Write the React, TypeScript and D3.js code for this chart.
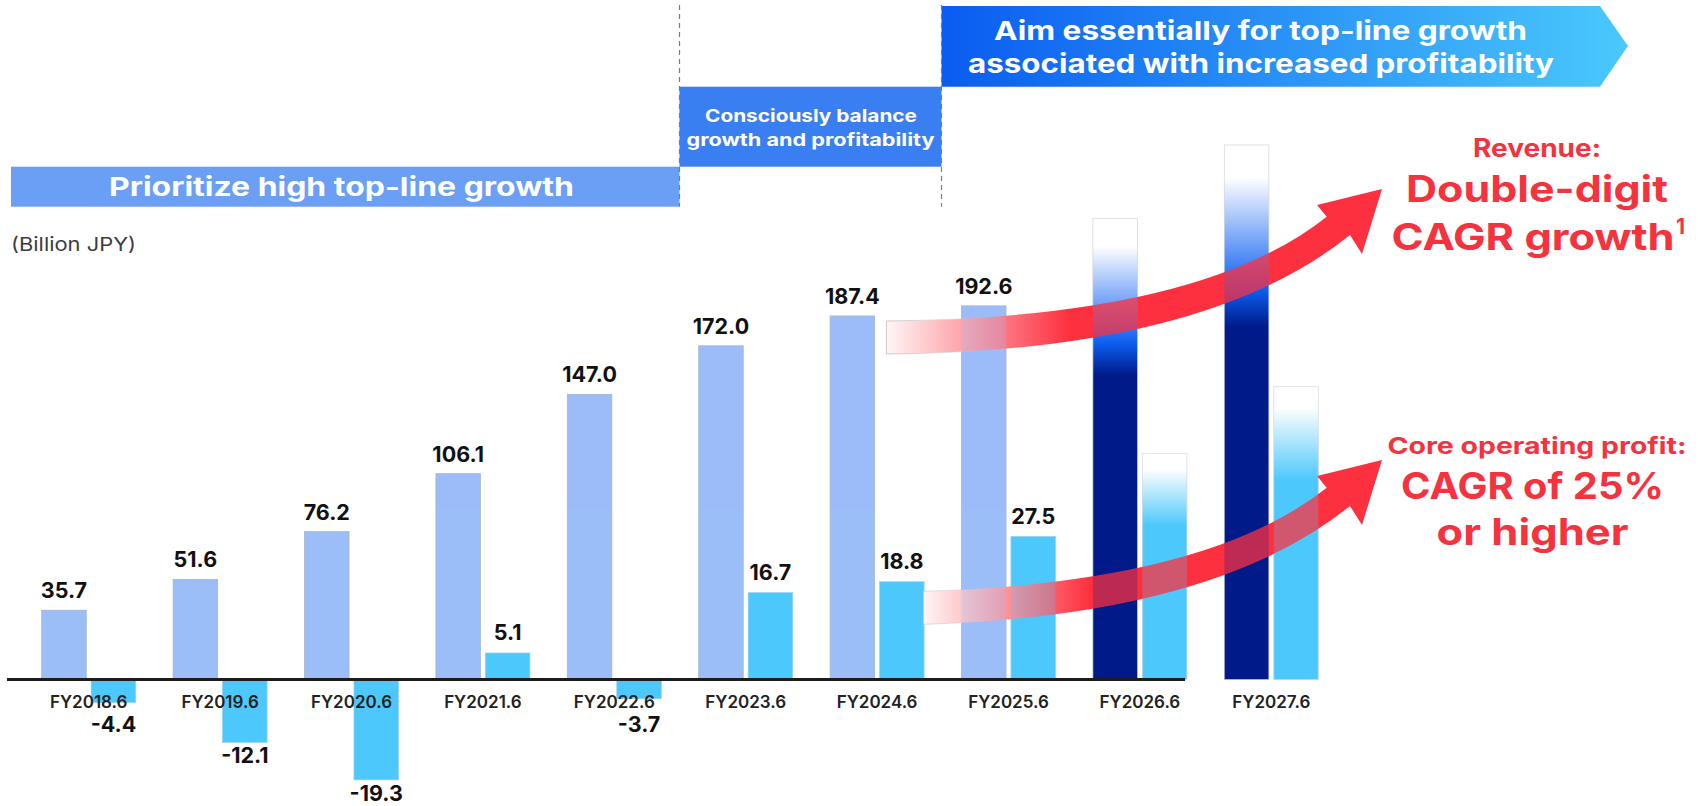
import * as d3 from 'd3';

const categories = ['FY2018.6', 'FY2019.6', 'FY2020.6', 'FY2021.6', 'FY2022.6', 'FY2023.6', 'FY2024.6', 'FY2025.6', 'FY2026.6', 'FY2027.6'];
// revenue and core operating profit, billion JPY (last two are illustrative targets, no labels)
const revenue = [35.7, 51.6, 76.2, 106.1, 147.0, 172.0, 187.4, 192.6, 237.7, 275.5];
const coreProfit = [-4.4, -12.1, -19.3, 5.1, -3.7, 16.7, 18.8, 27.5, 43.5, 56.3];
const targetYears = ['FY2026.6', 'FY2027.6'];

const phaseLeft = 'Prioritize high top-line growth';
const phaseMid = ['Consciously balance', 'growth and profitability'];
const phaseRight = ['Aim essentially for top-line growth', 'associated with increased profitability'];
const revenueNote = ['Revenue:', 'Double-digit', 'CAGR growth'];
const profitNote = ['Core operating profit:', 'CAGR of 25%', 'or higher'];

const W = 1698;
const H = 806;
const baseY = 679.5;
const FONT = 'Inter, "Open Sans", sans-serif';
const RED = '#f4333f';

const REV_COLOR = '#9bbdf8';
const OP_COLOR = '#4cc8fc';

type Pt = [number, number];

// quadratic bezier helpers so the lower arrow is the same curve, just started later
const quadAt = (p0: Pt, p1: Pt, p2: Pt, t: number): Pt => [
  (1 - t) * (1 - t) * p0[0] + 2 * t * (1 - t) * p1[0] + t * t * p2[0],
  (1 - t) * (1 - t) * p0[1] + 2 * t * (1 - t) * p1[1] + t * t * p2[1],
];
const subQuad = (p0: Pt, p1: Pt, p2: Pt, xStart: number) => {
  let lo = 0;
  let hi = 1;
  for (let i = 0; i < 40; i++) {
    const m = (lo + hi) / 2;
    if (quadAt(p0, p1, p2, m)[0] < xStart) lo = m;
    else hi = m;
  }
  const t = lo;
  const s = quadAt(p0, p1, p2, t);
  const c: Pt = [(1 - t) * p1[0] + t * p2[0], (1 - t) * p1[1] + t * p2[1]];
  return { s, c };
};

function arrowPath(dy: number, xStart: number) {
  const sh = (p: Pt): Pt => [p[0], p[1] + dy];
  const topS = sh([886.5, 321]);
  const topC = sh([1200, 318]);
  const notchT = sh([1326.7, 216.7]);
  const botS = sh([886, 354]);
  const botC = sh([1205, 352]);
  const notchB = sh([1350, 235]);
  const backT = sh([1317, 205]);
  const tip = sh([1382, 189]);
  const backB = sh([1362, 254]);
  const top = subQuad(topS, topC, notchT, xStart);
  const bot = subQuad(botS, botC, notchB, xStart);
  const p = d3.path();
  p.moveTo(top.s[0], top.s[1]);
  p.quadraticCurveTo(top.c[0], top.c[1], notchT[0], notchT[1]);
  p.lineTo(backT[0], backT[1]);
  p.lineTo(tip[0], tip[1]);
  p.lineTo(backB[0], backB[1]);
  p.lineTo(notchB[0], notchB[1]);
  // bottom edge drawn backwards: reverse quad keeps the same control point
  p.quadraticCurveTo(bot.c[0], bot.c[1], bot.s[0], bot.s[1]);
  p.closePath();
  return p.toString();
}

export default function App() {
  const x = d3.scaleBand<string>().domain(categories).range([23, 1337]).paddingInner(0.285).paddingOuter(0.1425);
  const xs = d3.scaleBand<string>().domain(['rev', 'op']).range([0, x.bandwidth()]).paddingInner(0.1);
  const yRev = d3.scaleLinear().domain([0, 100]).range([baseY, baseY - 194]);
  const yOp = d3.scaleLinear().domain([0, 10]).range([baseY, baseY - 52]);

  const bars = (pass: number) =>
    categories.map((c, i) => {
      const target = targetYears.includes(c);
      const xr = x(c)! + xs('rev')!;
      const xo = x(c)! + xs('op')!;
      const r = revenue[i];
      const o = coreProfit[i];
      const op = pass === 1 ? 0.25 : 1;
      return (
        <g key={c} opacity={op}>
          <rect
            x={xr}
            y={yRev(r)}
            width={xs.bandwidth()}
            height={baseY - yRev(r)}
            fill={target ? 'url(#revTarget)' : REV_COLOR}
            stroke={pass === 0 ? (target ? '#d0d4dc' : '#a9b6cc') : 'none'}
            strokeWidth={0.8}
          />
          <rect
            x={xo}
            y={Math.min(yOp(o), baseY)}
            width={xs.bandwidth()}
            height={Math.abs(yOp(o) - baseY)}
            fill={target ? 'url(#opTarget)' : OP_COLOR}
            stroke={pass === 0 ? (target ? '#d4d8de' : '#9fd6ee') : 'none'}
            strokeWidth={0.8}
          />
        </g>
      );
    });

  const fit = { lengthAdjust: 'spacingAndGlyphs' as const };

  return (
    <svg width={W} height={H} style={{ position: 'absolute', left: 0, top: 0, background: '#fff' }} fontFamily={FONT}>
      <defs>
        <linearGradient id="revTarget" x1="0" y1="0" x2="0" y2="1">
          <stop offset="0" stopColor="#ffffff" />
          <stop offset="0.06" stopColor="#ffffff" />
          <stop offset="0.27" stopColor="#0d5ff2" />
          <stop offset="0.34" stopColor="#001a8a" />
          <stop offset="1" stopColor="#001a8a" />
        </linearGradient>
        <linearGradient id="opTarget" x1="0" y1="0" x2="0" y2="1">
          <stop offset="0" stopColor="#ffffff" />
          <stop offset="0.07" stopColor="#ffffff" />
          <stop offset="0.32" stopColor={OP_COLOR} />
          <stop offset="1" stopColor={OP_COLOR} />
        </linearGradient>
        <linearGradient id="banner" x1="0" y1="0" x2="1" y2="0">
          <stop offset="0" stopColor="#0a5cf0" />
          <stop offset="1" stopColor="#4ac9fc" />
        </linearGradient>
        <linearGradient id="arrowRev" gradientUnits="userSpaceOnUse" x1="886" y1="0" x2="1070" y2="0">
          <stop offset="0" stopColor="#fff6f6" />
          <stop offset="1" stopColor="#fd303f" />
        </linearGradient>
        <linearGradient id="arrowOp" gradientUnits="userSpaceOnUse" x1="923" y1="0" x2="1090" y2="0">
          <stop offset="0" stopColor="#fff6f6" />
          <stop offset="1" stopColor="#fd303f" />
        </linearGradient>
        <linearGradient id="arrowEdge" gradientUnits="userSpaceOnUse" x1="880" y1="0" x2="1000" y2="0">
          <stop offset="0" stopColor="#c8c8c8" stopOpacity="1" />
          <stop offset="1" stopColor="#c8c8c8" stopOpacity="0" />
        </linearGradient>
      </defs>

      {/* phase headers */}
      <rect x={11} y={166.7} width={668.5} height={40} fill="#6a9ff5" />
      <text x={109} y={196} fill="#fff" fontSize={26} fontWeight={700} textLength={465} {...fit}>
        {phaseLeft}
      </text>
      <rect x={679.5} y={86.7} width={262} height={80} fill="#3a7ff2" />
      {phaseMid.map((t, i) => (
        <text
          key={t}
          x={i === 0 ? 705 : 686.5}
          y={122 + i * 24}
          fill="#fff"
          fontSize={17.5}
          fontWeight={700}
          textLength={i === 0 ? 212 : 248}
          {...fit}
        >
          {t}
        </text>
      ))}
      <path d="M941.5,6 L1600,6 L1628,46 L1600,86.7 L941.5,86.7 Z" fill="url(#banner)" />
      {phaseRight.map((t, i) => (
        <text
          key={t}
          x={i === 0 ? 994 : 968}
          y={39.5 + i * 33.5}
          fill="#fff"
          fontSize={26}
          fontWeight={700}
          textLength={i === 0 ? 533 : 586}
          {...fit}
        >
          {t}
        </text>
      ))}
      {[679.5, 941.5].map((d) => (
        <line key={d} x1={d} x2={d} y1={5} y2={206.7} stroke="#6b7ca8" strokeWidth={1.2} strokeDasharray="5,4" />
      ))}

      <text x={11} y={251} fontSize={19} fill="#3c3c3c" textLength={125} {...fit}>
        (Billion JPY)
      </text>

      {bars(0)}

      {/* growth arrows */}
      <path d={arrowPath(0, 886.5)} fill="url(#arrowRev)" stroke="url(#arrowEdge)" strokeWidth={1} />
      <path d={arrowPath(271, 923.3)} fill="url(#arrowOp)" stroke="url(#arrowEdge)" strokeWidth={1} />

      {/* bars again, faintly, so the arrows look translucent */}
      {bars(1)}

      <line x1={7} x2={1185} y1={baseY} y2={baseY} stroke="#1c1c1c" strokeWidth={3} />

      {categories.map((c) => {
        const xc = x(c)! + x.bandwidth() / 2;
        return (
          <text key={c} x={xc} y={707.5} textAnchor="middle" fontSize={17} fontWeight={600} fill="#222">
            {c}
          </text>
        );
      })}

      {categories.map((c, i) => {
        if (targetYears.includes(c)) return null;
        const r = revenue[i];
        const o = coreProfit[i];
        const xr = x(c)! + xs('rev')! + xs.bandwidth() / 2;
        const xo = x(c)! + xs('op')! + xs.bandwidth() / 2;
        const yo = o >= 0 ? yOp(o) - 12.5 : Math.max(yOp(o) + 21, baseY + 52);
        return (
          <g key={c} fontSize={21.5} fontWeight={700} fill="#111" textAnchor="middle">
            <text x={xr} y={yRev(r) - 12}>
              {r.toFixed(1)}
            </text>
            <text x={xo} y={yo}>
              {o.toFixed(1)}
            </text>
          </g>
        );
      })}

      {/* red annotations */}
      <g fill={RED} fontWeight={700}>
        <text x={1473} y={157} fontSize={25} textLength={128} {...fit}>
          {revenueNote[0]}
        </text>
        <text x={1406} y={201.5} fontSize={37} textLength={262} {...fit}>
          {revenueNote[1]}
        </text>
        <text x={1391.5} y={250} fontSize={37} textLength={283} {...fit}>
          {revenueNote[2]}
        </text>
        <text x={1676} y={234} fontSize={21}>
          1
        </text>
        <text x={1387.5} y={454} fontSize={23.5} textLength={299} {...fit}>
          {profitNote[0]}
        </text>
        <text x={1401} y={498.5} fontSize={37} textLength={263} {...fit}>
          {profitNote[1]}
        </text>
        <text x={1436.5} y={545} fontSize={37} textLength={192} {...fit}>
          {profitNote[2]}
        </text>
      </g>
    </svg>
  );
}
